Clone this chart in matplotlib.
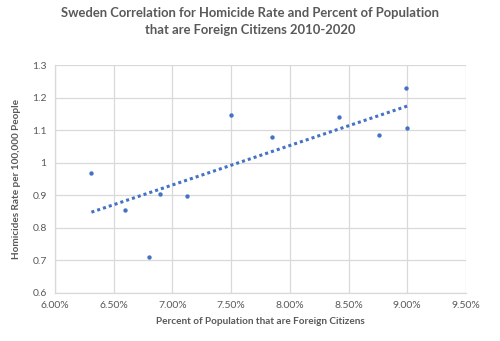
import numpy as np
import matplotlib.pyplot as plt
from matplotlib.ticker import FuncFormatter

# Share of population that are foreign citizens (%) and homicide rate, 2010-2020
foreign_pct = [6.31, 6.60, 6.80, 6.89, 7.12, 7.50, 7.85, 8.42, 8.76, 8.99, 9.00]
homicide_rate = [0.97, 0.855, 0.711, 0.905, 0.898, 1.148, 1.078, 1.142, 1.084, 1.229, 1.107]

x_ticks = [6.0, 6.5, 7.0, 7.5, 8.0, 8.5, 9.0, 9.5]
y_ticks = [0.6, 0.7, 0.8, 0.9, 1.0, 1.1, 1.2, 1.3]

plt.rcParams['font.family'] = ['Lato', 'DejaVu Sans']
text_color = '#595959'
grid_color = '#D9D9D9'
blue = '#4472C4'

fig = plt.figure(figsize=(5.0, 3.41), dpi=100)
ax = fig.add_axes([0.11, 0.141, 0.822, 0.668])

x = np.array(foreign_pct)
y = np.array(homicide_rate)
ax.scatter(x, y, s=10, color=blue, zorder=3, linewidths=0)

# Linear trendline across the observed range
slope, intercept = np.polyfit(x, y, 1)
xs = np.array([x.min(), x.max()])
ax.plot(xs, slope * xs + intercept, color=blue, linestyle=(0, (1, 1.0)),
        linewidth=2.2, zorder=2)

ax.set_xlim(6.0, 9.5)
ax.set_ylim(0.6, 1.3)
ax.set_xticks(x_ticks)
ax.set_yticks(y_ticks)
ax.xaxis.set_major_formatter(FuncFormatter(lambda v, p: f'{v:.2f}%'))
ax.yaxis.set_major_formatter(FuncFormatter(lambda v, p: f'{v:g}'))

ax.grid(True, color=grid_color, linewidth=0.9)
ax.set_axisbelow(True)
for side in ['top', 'right']:
    ax.spines[side].set_visible(False)
for side in ['left', 'bottom']:
    ax.spines[side].set_color(grid_color)
    ax.spines[side].set_linewidth(0.9)
ax.tick_params(length=0, labelsize=7.5, labelcolor=text_color, pad=6)

ax.set_xlabel('Percent of Population that are Foreign Citizens', fontsize=7.2,
              color=text_color, fontweight='bold', labelpad=5)
ax.set_ylabel('Homicides Rate per 100,000 People', fontsize=7.2,
              color=text_color, fontweight='bold', labelpad=8)

fig.suptitle('Sweden Correlation for Homicide Rate and Percent of Population\n'
             'that are Foreign Citizens 2010-2020', x=0.5, y=0.98,
             fontsize=9.4, fontweight='bold', color=text_color, linespacing=1.55)

fig.savefig('out.png', dpi=100, facecolor='white')
